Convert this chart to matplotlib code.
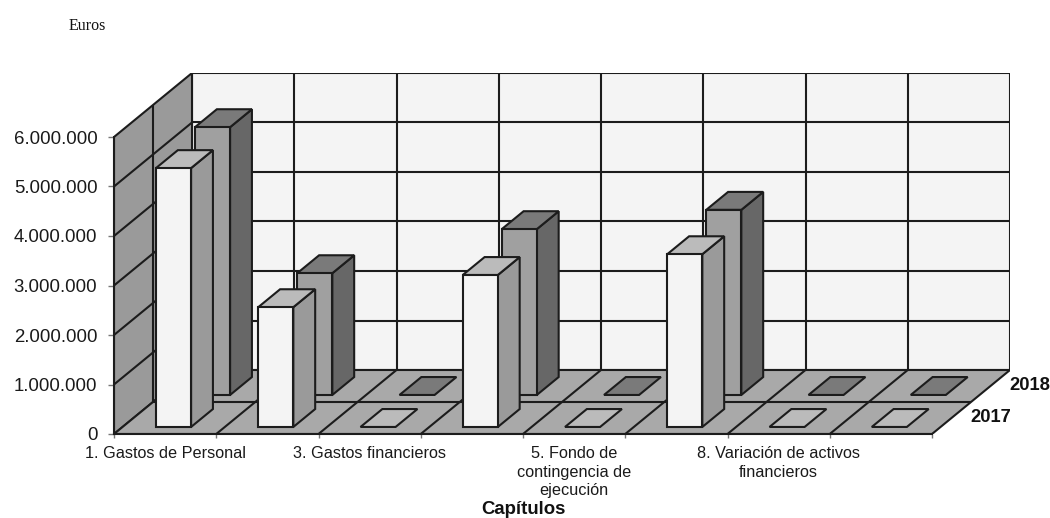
import numpy as np
import matplotlib
matplotlib.use("Agg")
import matplotlib.pyplot as plt
from matplotlib.patches import Polygon
from matplotlib.ticker import FuncFormatter

plt.rcParams['font.family'] = ['Liberation Sans', 'DejaVu Sans']

# values in euros, eight chapters, only some of them labelled
values_2017 = [5230000, 2420000, 0, 3070000, 0, 3490000, 0, 0]
values_2018 = [5410000, 2460000, 0, 3350000, 0, 3740000, 0, 0]
series_names = ["2017", "2018"]
y_ticks = [0, 1000000, 2000000, 3000000, 4000000, 5000000, 6000000]
label_pos = [0.5, 2.5, 4.5, 6.5]
labels = ["1. Gastos de Personal", "3. Gastos financieros",
          "5. Fondo de\ncontingencia de\nejecución",
          "8. Variación de activos\nfinancieros"]

# oblique look: one unit of depth moves a point this far in data units
DEPTH_X = 78 / 102.25
DEPTH_Y = 64 / 49.5 * 1e6
YMAX = 6000000
LINE = "#1c1c1c"


def pr(cat, val, depth):
    return (cat + depth * DEPTH_X, val + depth * DEPTH_Y)


def face(ax, pts, color, z=2, lw=1.5):
    ax.add_patch(Polygon([pr(*p) for p in pts], closed=True, facecolor=color,
                         edgecolor=LINE, lw=lw, joinstyle="miter", zorder=z))


def line(ax, a, b, lw=1.5, z=1.5):
    p, q = pr(*a), pr(*b)
    ax.plot([p[0], q[0]], [p[1], q[1]], color=LINE, lw=lw, zorder=z,
            solid_capstyle="butt")


def bar(ax, i, val, d0, d1, front, side, top):
    x0, x1 = i + 0.327, i + 0.327 + 0.343
    if val > 0:
        face(ax, [(x1, 0, d0), (x1, 0, d1), (x1, val, d1), (x1, val, d0)], side, 3)
        face(ax, [(x0, val, d0), (x1, val, d0), (x1, val, d1), (x0, val, d1)], top, 3)
        face(ax, [(x0, 0, d0), (x1, 0, d0), (x1, val, d0), (x0, val, d0)], front, 3)
    else:
        face(ax, [(x0, 0, d0), (x1, 0, d0), (x1, 0, d1), (x0, 0, d1)], top, 3)


fig = plt.figure(figsize=(10.5, 5.18), dpi=100)
ax = fig.add_axes([114 / 1050, (518 - 434) / 518, (1010 - 114) / 1050, (434 - 73) / 518])
ax.set_xlim(0, 8 + DEPTH_X)
ax.set_ylim(0, YMAX + DEPTH_Y)
ax.patch.set_visible(False)

# walls and floor
face(ax, [(0, 0, 1), (8, 0, 1), (8, YMAX, 1), (0, YMAX, 1)], "#f4f4f4", 1)
face(ax, [(0, 0, 0), (0, 0, 1), (0, YMAX, 1), (0, YMAX, 0)], "#9a9a9a", 1)
face(ax, [(0, 0, 0), (8, 0, 0), (8, 0, 1), (0, 0, 1)], "#a9a9a9", 1)

# grid
for v in y_ticks[1:-1]:
    line(ax, (0, v, 0), (0, v, 1))
    line(ax, (0, v, 1), (8, v, 1))
for c in range(1, 8):
    line(ax, (c, 0, 1), (c, YMAX, 1))
    line(ax, (c, 0, 0), (c, 0, 1))
line(ax, (0, 0, 0.5), (0, YMAX, 0.5))
line(ax, (0, 0, 0.5), (8, 0, 0.5))

# back row first so the 2017 bars sit over it
for i, v in enumerate(values_2018):
    bar(ax, i, v, 0.61, 0.89, "#a0a0a0", "#676767", "#7a7a7a")
for i, v in enumerate(values_2017):
    bar(ax, i, v, 0.11, 0.39, "#f4f4f4", "#9a9a9a", "#bbbbbb")

# axes
for s in ["top", "right"]:
    ax.spines[s].set_visible(False)
ax.spines["left"].set_bounds(0, YMAX)
ax.spines["bottom"].set_bounds(0, 8)
ax.spines["left"].set_color(LINE)
ax.spines["bottom"].set_color(LINE)
ax.spines["left"].set_linewidth(1.5)
ax.spines["bottom"].set_linewidth(1.5)
ax.spines["left"].set_zorder(4)
ax.spines["bottom"].set_zorder(4)
ax.set_yticks(y_ticks)
ax.yaxis.set_major_formatter(FuncFormatter(lambda v, p: f"{int(v):,}".replace(",", ".")))
ax.tick_params(axis="y", length=4, width=1, color="#777777", pad=8, labelsize=13.4, labelcolor="#1a1a1a")
ax.set_xticks(range(9))
ax.set_xticklabels([])
ax.set_xticks(label_pos, labels=labels, minor=True)
ax.tick_params(axis="x", which="major", length=3, width=1, color="#777777")
ax.tick_params(axis="x", which="minor", length=0, pad=9, labelsize=11.7, labelcolor="#1a1a1a")
for t in ax.get_xticklabels(minor=True):
    t.set_verticalalignment("top")
    t.set_linespacing(1.27)

# depth labels at the right of the floor
for name, d, dx in zip(series_names, [0.25, 0.75], [0.18, 0.18]):
    x, y = pr(8, 0, d)
    ax.text(x + dx, y, name, fontsize=13.2, fontweight="bold", va="center", ha="left", color="#111111", clip_on=False)

fig.text(523 / 1050, 1 - 509 / 518, "Capítulos", fontsize=13.4, fontweight="bold", ha="center", va="center", color="#111111")
fig.text(69 / 1050, 1 - 26 / 518, "Euros", fontsize=11.5, family="Liberation Serif", ha="left", va="center", color="#111111")

fig.savefig("out.png", dpi=100)
